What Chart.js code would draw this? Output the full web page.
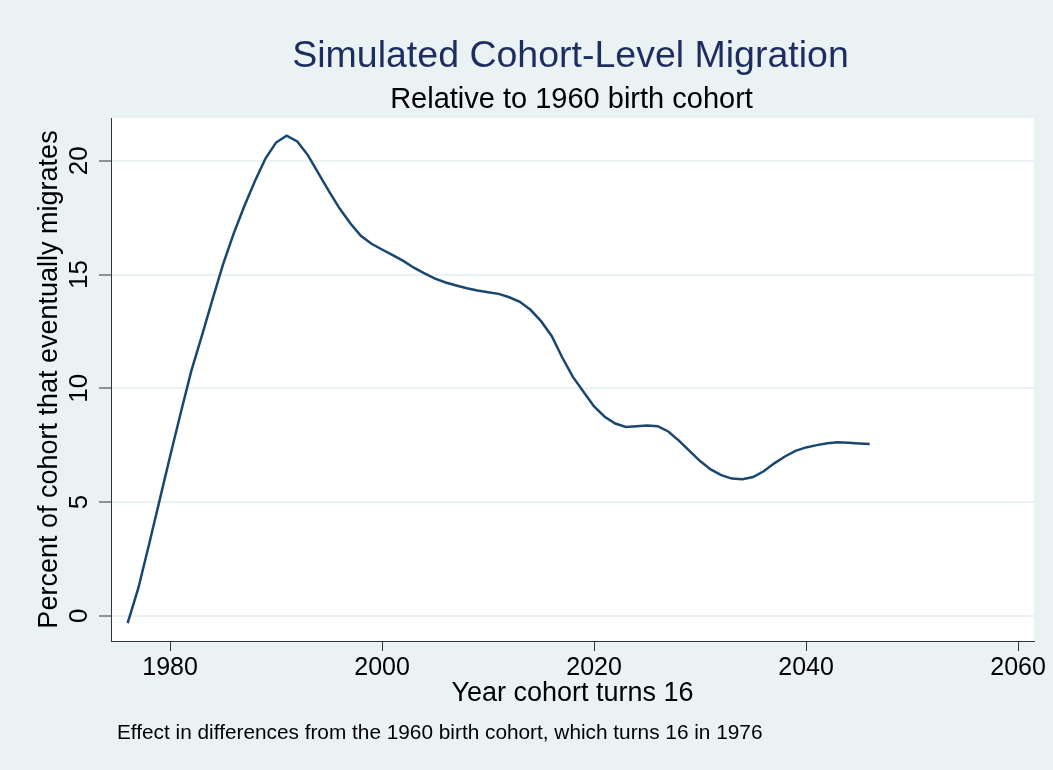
<!DOCTYPE html>
<html>
<head>
<meta charset="utf-8">
<title>Simulated Cohort-Level Migration</title>
<script src="https://cdn.jsdelivr.net/npm/chart.js@4.4.1/dist/chart.umd.min.js"></script>
<style>
    html, body { margin: 0; padding: 0; background: #eaf2f3; }
    #wrap { width: 1053px; height: 770px; }
</style>
</head>
<body>
<div id="wrap"><canvas id="migration-chart" width="1053" height="770"></canvas></div>
<script>
    // Year the cohort turns 16
    const years = [
        1976, 1977, 1978, 1979, 1980, 1981, 1982, 1983, 1984, 1985,
        1986, 1987, 1988, 1989, 1990, 1991, 1992, 1993, 1994, 1995,
        1996, 1997, 1998, 1999, 2000, 2001, 2002, 2003, 2004, 2005,
        2006, 2007, 2008, 2009, 2010, 2011, 2012, 2013, 2014, 2015,
        2016, 2017, 2018, 2019, 2020, 2021, 2022, 2023, 2024, 2025,
        2026, 2027, 2028, 2029, 2030, 2031, 2032, 2033, 2034, 2035,
        2036, 2037, 2038, 2039, 2040, 2041, 2042, 2043, 2044, 2045,
        2046
    ];

    // Percent of cohort that eventually migrates (relative to 1960 cohort)
    const migration = [
        -0.32, 1.2, 3.1, 5.05, 7.0, 8.9, 10.75, 12.3, 13.9, 15.45,
        16.8, 18.0, 19.1, 20.1, 20.8, 21.1, 20.85, 20.25, 19.45, 18.65,
        17.9, 17.25, 16.7, 16.35, 16.1, 15.85, 15.6, 15.3, 15.05, 14.82,
        14.65, 14.52, 14.4, 14.3, 14.22, 14.15, 14.0, 13.8, 13.45, 12.95,
        12.3, 11.35, 10.5, 9.85, 9.2, 8.75, 8.45, 8.3, 8.33, 8.36,
        8.33, 8.1, 7.7, 7.25, 6.8, 6.43, 6.18, 6.03, 6.0, 6.1,
        6.35, 6.7, 7.0, 7.25, 7.4, 7.5, 7.58, 7.63, 7.6, 7.57,
        7.55
    ];

    const xTicks = [1980, 2000, 2020, 2040, 2060];
    const yTicks = [0, 5, 10, 15, 20];

    const FONT = '"Liberation Sans", Arial, Helvetica, sans-serif';
    const BG = '#eaf2f3';
    const AXIS = '#333333';

    // Background, white plot region, titles, rotated y labels and note
    const stataLook = {
        id: 'stataLook',
        beforeDraw: function(chart) {
            const ctx = chart.ctx;
            const a = chart.chartArea;
            ctx.save();
            ctx.fillStyle = BG;
            ctx.fillRect(0, 0, chart.width, chart.height);
            ctx.fillStyle = '#ffffff';
            ctx.fillRect(a.left, a.top, a.right - a.left, a.bottom - a.top);
            ctx.restore();
        },
        afterDraw: function(chart) {
            const ctx = chart.ctx;
            const a = chart.chartArea;
            const cx = (a.left + a.right) / 2;
            ctx.save();

            ctx.textAlign = 'center';
            ctx.textBaseline = 'alphabetic';
            ctx.fillStyle = '#1e2d5f';
            ctx.font = '37.5px ' + FONT;
            ctx.fillText('Simulated Cohort-Level Migration', cx - 2, 67);

            ctx.fillStyle = '#000000';
            ctx.font = '29px ' + FONT;
            ctx.fillText('Relative to 1960 birth cohort', cx - 1, 108);

            // y tick labels, rotated like Stata draws them
            const yScale = chart.scales.y;
            ctx.font = '26px ' + FONT;
            ctx.textBaseline = 'middle';
            yScale.ticks.forEach(function(t) {
                const py = yScale.getPixelForValue(t.value);
                ctx.save();
                ctx.translate(80, py);
                ctx.rotate(-Math.PI / 2);
                ctx.fillText(String(t.value), 0, 0);
                ctx.restore();
            });

            ctx.textAlign = 'left';
            ctx.textBaseline = 'alphabetic';
            ctx.font = '20.8px ' + FONT;
            ctx.fillText('Effect in differences from the 1960 birth cohort, which turns 16 in 1976', 117, 739);
            ctx.restore();
        }
    };

    const ctx = document.getElementById('migration-chart').getContext('2d');
    new Chart(ctx, {
        type: 'line',
        data: {
            datasets: [{
                label: 'Migration',
                data: years.map(function(y, i) { return { x: y, y: migration[i] }; }),
                borderColor: '#1a476f',
                borderWidth: 2.5,
                pointRadius: 0,
                tension: 0,
                fill: false
            }]
        },
        options: {
            responsive: false,
            devicePixelRatio: 1,
            animation: false,
            layout: {
                padding: { top: 118, right: 19, bottom: 60, left: 0 }
            },
            plugins: {
                legend: { display: false },
                tooltip: { enabled: false },
                title: { display: false }
            },
            scales: {
                x: {
                    type: 'linear',
                    min: 1974.43,
                    max: 2061.5,
                    afterBuildTicks: function(scale) {
                        scale.ticks = xTicks.map(function(v) { return { value: v }; });
                    },
                    afterFit: function(scale) {
                        scale.height = 69;
                    },
                    ticks: {
                        autoSkip: false,
                        maxRotation: 0,
                        padding: 2,
                        color: '#000000',
                        font: { family: FONT, size: 25 },
                        callback: function(value) {
                            return String(value);
                        }
                    },
                    grid: {
                        drawOnChartArea: false,
                        tickLength: 10,
                        tickColor: AXIS,
                        tickWidth: 1
                    },
                    border: { color: AXIS, width: 1 },
                    title: {
                        display: true,
                        text: 'Year cohort turns 16',
                        color: '#000000',
                        font: { family: FONT, size: 27 },
                        padding: { top: 0, bottom: 0 }
                    }
                },
                y: {
                    type: 'linear',
                    min: -1.11,
                    max: 21.88,
                    afterBuildTicks: function(scale) {
                        scale.ticks = yTicks.map(function(v) { return { value: v }; });
                    },
                    afterFit: function(scale) {
                        scale.width = 111;
                    },
                    ticks: { display: false },
                    grid: {
                        color: BG,
                        lineWidth: 2,
                        tickLength: 12,
                        tickColor: AXIS,
                        tickWidth: 1
                    },
                    border: { color: AXIS, width: 1 },
                    title: {
                        display: true,
                        text: 'Percent of cohort that eventually migrates',
                        color: '#000000',
                        font: { family: FONT, size: 27 },
                        padding: { top: 33, bottom: 0 }
                    }
                }
            }
        },
        plugins: [stataLook]
    });
</script>
</body>
</html>
